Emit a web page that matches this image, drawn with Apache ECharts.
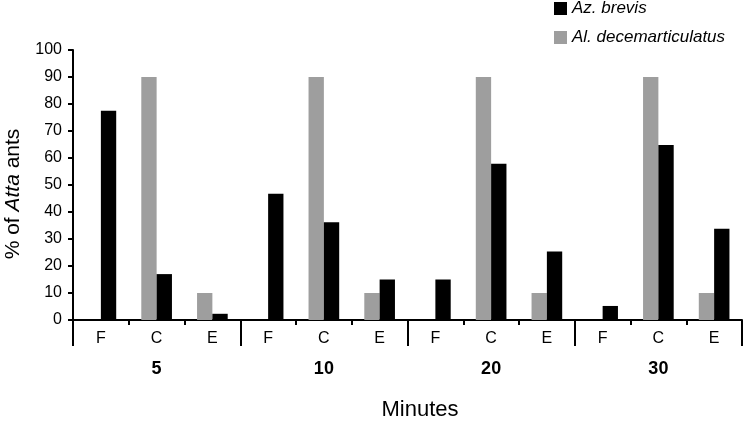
<!DOCTYPE html>
<html>
<head>
<meta charset="utf-8">
<script src="https://cdn.jsdelivr.net/npm/echarts@6/dist/echarts.min.js"></script>
<style>
html,body{margin:0;padding:0;background:#fff;}
#chart{width:750px;height:421px;}
</style>
</head>
<body>
<div id="chart"></div>
<script>
const categories = ['F','C','E','F','C','E','F','C','E','F','C','E'];
const groups = ['5','10','20','30'];
const yTicks = [0,10,20,30,40,50,60,70,80,90,100];
const azBrevis = [77.5,17,2.3, 46.8,36.2,15, 15,57.9,25.4, 5.2,64.8,33.8];
const alDecem = [0,90,10, 0,90,10, 0,90,10, 0,90,10];
const seriesNames = ['Az. brevis','Al. decemarticulatus'];

const font = 'Liberation Sans, Arial, sans-serif';
const chart = echarts.init(document.getElementById('chart'), null, {renderer:'canvas'});
chart.setOption({
  animation:false,
  textStyle:{fontFamily:font,color:'#000'},
  grid:{left:73,right:8,top:50,bottom:101,containLabel:false},
  legend:{
    data:[seriesNames[0],seriesNames[1]],
    orient:'vertical',left:549,top:-5,
    itemWidth:13,itemHeight:13,itemGap:12,
    icon:'rect',
    textStyle:{fontFamily:font,fontSize:17,fontStyle:'italic',color:'#000'}
  },
  xAxis:[
    {type:'category',data:categories,position:'bottom',
     axisLine:{show:true,lineStyle:{color:'#000',width:2}},
     axisTick:{show:true,length:5,lineStyle:{color:'#000',width:2}},
     axisLabel:{color:'#000',fontSize:16,margin:11,fontFamily:font},
     splitLine:{show:false}},
    {type:'category',data:groups,position:'bottom',
     axisLine:{show:false},
     axisTick:{show:true,length:26,lineStyle:{color:'#000',width:2}},
     axisLabel:{color:'#000',fontSize:18,fontWeight:'bold',margin:40,fontFamily:font},
     splitLine:{show:false}}
  ],
  yAxis:{type:'value',min:yTicks[0],max:yTicks[yTicks.length-1],interval:10,
    axisLine:{show:true,lineStyle:{color:'#000',width:2}},
    axisTick:{show:true,length:5,lineStyle:{color:'#000',width:2}},
    axisLabel:{color:'#000',fontSize:16,margin:11,fontFamily:font},
    splitLine:{show:false}},
  graphic:[
    {type:'text',x:420,y:410,style:{text:'Minutes',fontSize:22,fontFamily:font,fill:'#000',align:'center',verticalAlign:'middle'}},
    {type:'text',x:13,y:194,rotation:Math.PI/2,
     style:{text:'{a|% of }{b|Atta}{a| ants}',align:'center',verticalAlign:'middle',
       rich:{a:{fontSize:21,fontFamily:font,fill:'#000',color:'#000'},
             b:{fontSize:21,fontFamily:font,fontStyle:'italic',fill:'#000',color:'#000'}}}}
  ],
  series:[
    {name:seriesNames[1],type:'bar',data:alDecem,xAxisIndex:0,barGap:'0%',barCategoryGap:'45%',
     itemStyle:{color:'#9e9e9e'}},
    {name:seriesNames[0],type:'bar',data:azBrevis,xAxisIndex:0,barGap:'0%',barCategoryGap:'45%',
     itemStyle:{color:'#000'}}
  ]
});
</script>
</body>
</html>
